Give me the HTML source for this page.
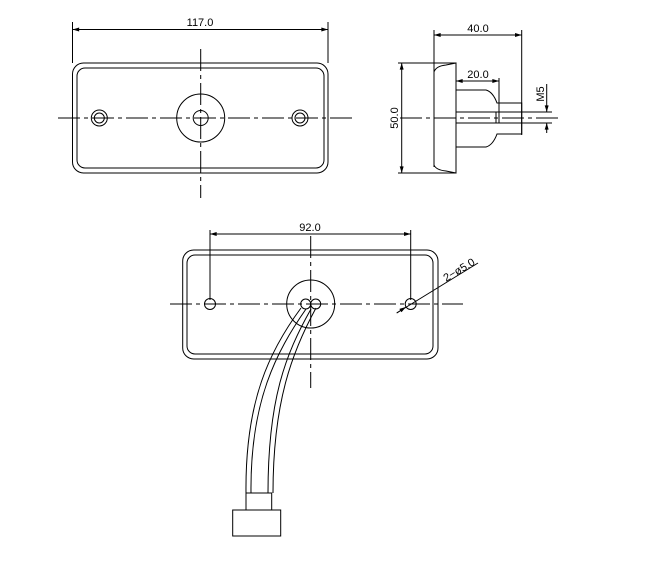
<!DOCTYPE html>
<html><head><style>body{margin:0;background:#fff}svg{display:block}text{font-family:"Liberation Sans",sans-serif;font-size:11px;fill:#000}</style></head><body>
<svg width="650" height="563" viewBox="0 0 650 563" xmlns="http://www.w3.org/2000/svg">
<defs><marker id="a" viewBox="0 0 10 6" refX="10" refY="3" markerWidth="8" markerHeight="4" orient="auto-start-reverse" markerUnits="userSpaceOnUse"><path d="M0,0L10,3L0,6z" fill="#000"/></marker></defs>
<g fill="none" stroke="#000" stroke-width="1">
<line x1="72.5" y1="22" x2="72.5" y2="63"/><line x1="328" y1="22" x2="328" y2="63"/>
<line x1="72.5" y1="29.5" x2="328" y2="29.5" marker-start="url(#a)" marker-end="url(#a)"/>
<rect x="72.5" y="63" width="255.5" height="110" rx="11"/>
<rect x="77" y="68" width="247" height="100" rx="8"/>
<line x1="58" y1="118" x2="352" y2="118" stroke-dasharray="22,4,4,4"/>
<line x1="200.7" y1="49" x2="200.7" y2="198" stroke-dasharray="22,4,4,4"/>
<circle cx="200.7" cy="118" r="24"/><circle cx="200.7" cy="118" r="7.5"/>
<circle cx="99.3" cy="118" r="8"/><circle cx="99.3" cy="118" r="5"/>
<circle cx="300" cy="118" r="8"/><circle cx="300" cy="118" r="5"/>
<line x1="434" y1="30" x2="434" y2="167"/>
<line x1="521.7" y1="30" x2="521.7" y2="135"/>
<line x1="434" y1="35" x2="521.7" y2="35" marker-start="url(#a)" marker-end="url(#a)"/>
<line x1="398" y1="63" x2="456" y2="63"/><line x1="398" y1="173" x2="456" y2="173"/>
<line x1="401.7" y1="63" x2="401.7" y2="173" marker-start="url(#a)" marker-end="url(#a)"/>
<path d="M434,72 Q436,66 446,65 L456,63 L456,173 L446,171 Q436,170 434,165"/>
<path d="M456,90 H486 Q493,92 497,103 H521.7 V134 H497 Q493,145 486,147 H456"/>
<path d="M456,112 H499 V123 H456"/><line x1="496" y1="112" x2="496" y2="123"/>
<line x1="499" y1="78" x2="499" y2="112"/>
<line x1="456" y1="81" x2="499" y2="81" marker-start="url(#a)" marker-end="url(#a)"/>
<line x1="499" y1="112" x2="552" y2="112"/><line x1="499" y1="123" x2="552" y2="123"/>
<line x1="546.7" y1="84" x2="546.7" y2="112" marker-end="url(#a)"/>
<line x1="546.7" y1="133" x2="546.7" y2="123" marker-end="url(#a)"/>
<line x1="400" y1="118" x2="560" y2="118" stroke-dasharray="22,4,4,4"/>
<line x1="210" y1="230" x2="210" y2="300"/><line x1="410.7" y1="230" x2="410.7" y2="300"/>
<line x1="210" y1="234" x2="410.7" y2="234" marker-start="url(#a)" marker-end="url(#a)"/>
<rect x="182.7" y="250" width="255.3" height="109" rx="11"/>
<rect x="187" y="255" width="246" height="99" rx="8"/>
<line x1="170" y1="304" x2="463" y2="304" stroke-dasharray="22,4,4,4"/>
<line x1="310.7" y1="236" x2="310.7" y2="388" stroke-dasharray="22,4,4,4"/>
<circle cx="310.7" cy="304" r="24"/>
<circle cx="210" cy="304" r="5.5"/><circle cx="410.7" cy="304" r="5.5"/>
<circle cx="305.7" cy="304" r="5"/><circle cx="315.7" cy="304" r="5"/>
<line x1="396.7" y1="313" x2="478" y2="263"/>
<line x1="396.7" y1="313" x2="406" y2="307" marker-end="url(#a)"/>
<path d="M301,308 C270,350 245,400 246,493"/>
<path d="M306,309 C276,352 250,402 251,493"/>
<path d="M311,309 C285,355 268,400 268,493"/>
<path d="M316,308 C292,352 273,402 273,493"/>
<rect x="246" y="493" width="25.7" height="17"/>
<rect x="232.7" y="510" width="48" height="26"/>
</g>
<text x="200" y="26" text-anchor="middle">117.0</text>
<text x="478" y="32" text-anchor="middle">40.0</text>
<text x="478" y="78" text-anchor="middle">20.0</text>
<text transform="translate(398,118) rotate(-90)" text-anchor="middle">50.0</text>
<text transform="translate(544,94) rotate(-90)" text-anchor="middle" font-size="10">M5</text>
<text x="310" y="231" text-anchor="middle">92.0</text>
<text transform="translate(461,273) rotate(-31)" text-anchor="middle">2−ø5.0</text>
</svg>
</body></html>
